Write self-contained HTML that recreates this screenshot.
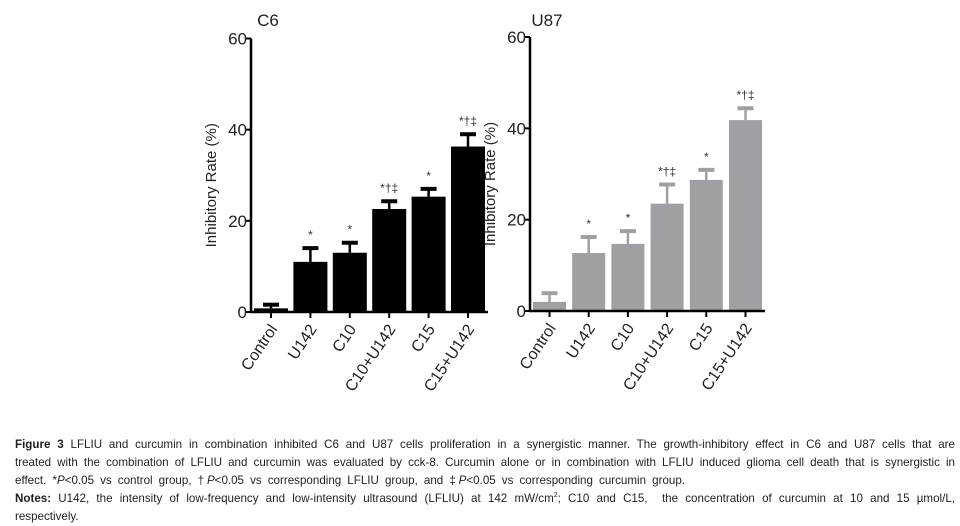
<!DOCTYPE html>
<html><head><meta charset="utf-8">
<style>
body{margin:0;background:#fff;width:960px;height:524px;overflow:hidden;position:relative;font-family:"Liberation Sans",Arial,sans-serif;}
.cap{position:absolute;left:15px;width:940px;font-size:11.6px;color:#231f20;line-height:18px;white-space:nowrap;text-align:justify;text-align-last:justify;}
</style></head><body>
<svg id="chart" width="960" height="430" style="position:absolute;left:0;top:0" font-family="Liberation Sans, Arial, sans-serif"></svg>
<div class="cap" style="top:436px"><b>Figure 3</b> LFLIU and curcumin in combination inhibited C6 and U87 cells proliferation in a synergistic manner. The growth-inhibitory effect in C6 and U87 cells that are</div>
<div class="cap" style="top:454px">treated with the combination of LFLIU and curcumin was evaluated by cck-8. Curcumin alone or in combination with LFLIU induced glioma cell death that is synergistic in</div>
<div class="cap" style="top:472px;width:670px">effect. *<i>P</i>&lt;0.05 vs control group, †<i>P</i>&lt;0.05 vs corresponding LFLIU group, and ‡<i>P</i>&lt;0.05 vs corresponding curcumin group.</div>
<div class="cap" style="top:490px"><b>Notes:</b> U142, the intensity of low-frequency and low-intensity ultrasound (LFLIU) at 142 mW/cm<sup style="font-size:7px;line-height:0">2</sup>; C10 and C15,&nbsp; the concentration of curcumin at 10 and 15 µmol/L,</div>
<div class="cap" style="top:508px;text-align-last:left">respectively.</div>
<script>
const categories=["Control","U142","C10","C10+U142","C15","C15+U142"];
const c6Values=[0.8,11,13,22.6,25.3,36.3];
const c6ErrTop=[1.6,14,15.2,24.3,27,39];
const u87Values=[2,12.7,14.7,23.5,28.7,41.8];
const u87ErrTop=[3.9,16.2,17.5,27.7,30.9,44.4];
const sigMarks=["","*","*","*†‡","*","*†‡"];
const yTicks=[0,20,40,60];
const svg=document.getElementById('chart');
const NS="http://www.w3.org/2000/svg";
function mk(t,a,p){const e=document.createElementNS(NS,t);for(const k in a)e.setAttribute(k,a[k]);(p||svg).appendChild(e);return e;}
function panel(name,title,vals,errs,color,ax,y0,y60,x0,pitch,bw){
  const g=mk('g',{});
  
  
  const ys=v=>y0+(y60-y0)*v/60;
  const t=mk('text',{x:ax+17,y:26,'font-size':17,'text-anchor':'middle',fill:'#222'},g);t.textContent=title;
  
  const yl=mk('text',{transform:`translate(${ax-35},${(y0+y60)/2+10}) rotate(-90)`,'font-size':15,'text-anchor':'middle',fill:'#222'},g);yl.textContent='Inhibitory Rate (%)';
  
  vals.forEach((v,i)=>{
    const xl=x0+i*pitch,cx=xl+bw/2;
    const r=mk('rect',{x:xl,y:ys(v),width:bw,height:y0-ys(v),fill:color},g);
    
    
    mk('line',{x1:cx,x2:cx,y1:ys(v),y2:ys(errs[i]),stroke:color,'stroke-width':2.5},g);
    mk('line',{x1:cx-8,x2:cx+8,y1:ys(errs[i]),y2:ys(errs[i]),stroke:color,'stroke-width':4},g);
    if(sigMarks[i]){
      const s=mk('text',{x:cx,y:ys(errs[i])-9,'font-size':12,'text-anchor':'middle',fill:'#333'},g);s.textContent=sigMarks[i];
      
    }
    mk('line',{x1:cx,x2:cx,y1:y0,y2:y0+6,stroke:'#000','stroke-width':2},g);
    const lb=mk('text',{transform:`translate(${cx+7},${y0+17}) rotate(-56)`,'font-size':16,'text-anchor':'end',fill:'#222'},g);lb.textContent=categories[i];
    
  });
  mk('line',{x1:ax,x2:ax,y1:y60,y2:y0+1,stroke:'#000','stroke-width':2.5},g);
  mk('line',{x1:ax-1,x2:x0+5*pitch+bw+3,y1:y0,y2:y0,stroke:'#000','stroke-width':2.5},g);
  yTicks.forEach(v=>{
    mk('line',{x1:ax-5,x2:ax,y1:ys(v),y2:ys(v),stroke:'#000','stroke-width':2},g);
    const tl=mk('text',{x:ax-4,y:ys(v)+6,'font-size':17,'text-anchor':'end',fill:'#222'},g);tl.textContent=v;
    
  });
}
panel('c6','C6',c6Values,c6ErrTop,'#000',251,312,38.5,254,39.4,34);
panel('u87','U87',u87Values,u87ErrTop,'#a0a0a4',530,311,37,533,39.2,33);
</script>
</body></html>
